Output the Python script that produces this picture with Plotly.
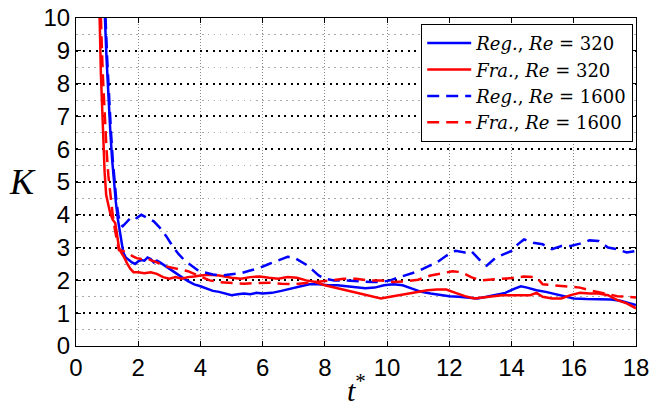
import plotly.graph_objects as go

# Time axis values t* and K for each run
t_reg320 = [0.88, 0.93, 0.98, 1.04, 1.10, 1.16, 1.22, 1.28, 1.34, 1.40, 1.46, 1.52, 1.6, 1.7, 1.8, 1.9,
            2.0, 2.1, 2.2, 2.3, 2.4, 2.5, 2.6, 2.7, 2.85, 3.0, 3.2, 3.4, 3.6, 3.8, 4.0, 4.2, 4.4, 4.6,
            4.8, 5.0, 5.2, 5.4, 5.6, 5.8, 6.0, 6.3, 6.6, 6.9, 7.2, 7.5, 7.8, 8.1, 8.4, 8.7, 9.0, 9.3,
            9.6, 9.9, 10.2, 10.5, 10.8, 11.1, 11.4, 11.7, 12.0, 12.3, 12.6, 12.9, 13.2, 13.5, 13.8,
            14.1, 14.3, 14.5, 14.8, 15.1, 15.4, 15.7, 16.0, 16.4, 16.8, 17.2, 17.5, 17.8, 18.0]
k_reg320 = [10.6, 10.0, 8.8, 7.6, 6.6, 5.7, 5.0, 4.4, 3.9, 3.5, 3.1, 2.85, 2.7, 2.62, 2.55, 2.5,
            2.58, 2.62, 2.6, 2.7, 2.65, 2.55, 2.6, 2.55, 2.45, 2.35, 2.22, 2.1, 1.98, 1.88, 1.82, 1.75,
            1.68, 1.65, 1.6, 1.55, 1.58, 1.6, 1.58, 1.62, 1.6, 1.62, 1.68, 1.75, 1.82, 1.88, 1.88,
            1.85, 1.85, 1.82, 1.78, 1.76, 1.78, 1.85, 1.88, 1.85, 1.75, 1.65, 1.6, 1.55, 1.52, 1.5,
            1.47, 1.45, 1.5, 1.55, 1.62, 1.75, 1.82, 1.78, 1.7, 1.65, 1.58, 1.5, 1.45, 1.43, 1.42,
            1.42, 1.38, 1.3, 1.25]

t_fra320 = [0.72, 0.76, 0.80, 0.84, 0.88, 0.92, 0.97, 1.02, 1.10, 1.18, 1.26, 1.32, 1.38, 1.45, 1.55,
            1.65, 1.75, 1.85, 2.0, 2.2, 2.4, 2.6, 2.8, 3.0, 3.2, 3.4, 3.6, 3.8, 4.0, 4.3, 4.6, 5.0,
            5.3, 5.6, 5.9, 6.2, 6.5, 6.8, 7.1, 7.4, 7.7, 8.0, 8.3, 8.6, 8.9, 9.2, 9.5, 9.8, 10.1,
            10.4, 10.7, 11.0, 11.3, 11.6, 11.9, 12.2, 12.5, 12.8, 13.1, 13.4, 13.7, 14.0, 14.3,
            14.6, 14.8, 15.0, 15.3, 15.6, 15.9, 16.2, 16.5, 16.8, 17.1, 17.4, 17.7, 18.0]
k_fra320 = [10.6, 10.0, 8.3, 7.2, 6.2, 5.3, 4.6, 4.35, 4.05, 3.85, 3.75, 3.4, 3.0, 2.85, 2.7,
            2.5, 2.35, 2.25, 2.25, 2.22, 2.25, 2.2, 2.1, 2.05, 2.1, 2.05, 2.1, 2.12, 2.15, 2.17,
            2.15, 2.08, 2.05, 2.1, 2.12, 2.08, 2.05, 2.1, 2.08, 2.0, 1.95, 1.85, 1.78, 1.72, 1.65,
            1.58, 1.5, 1.45, 1.5, 1.55, 1.6, 1.65, 1.7, 1.72, 1.72, 1.62, 1.52, 1.45, 1.48, 1.52,
            1.55, 1.55, 1.55, 1.55, 1.62, 1.5, 1.45, 1.45, 1.55, 1.62, 1.6, 1.6, 1.55, 1.4, 1.3,
            1.15]

t_reg1600 = [0.9, 0.95, 1.0, 1.06, 1.12, 1.18, 1.24, 1.30, 1.36, 1.42, 1.5, 1.6, 1.7, 1.8, 1.95,
             2.1, 2.3, 2.5, 2.7, 2.9, 3.1, 3.3, 3.5, 3.7, 3.9, 4.1, 4.4, 4.7, 5.0, 5.3, 5.6, 5.9,
             6.2, 6.5, 6.8, 7.0, 7.2, 7.4, 7.6, 7.8, 8.0, 8.3, 8.6, 8.9, 9.2, 9.5, 9.8, 10.1, 10.4,
             10.7, 11.0, 11.3, 11.6, 11.9, 12.2, 12.5, 12.7, 13.0, 13.2, 13.5, 13.8, 14.0, 14.2,
             14.4, 14.7, 15.0, 15.3, 15.6, 15.9, 16.2, 16.5, 16.8, 17.1, 17.4, 17.7, 18.0]
k_reg1600 = [10.6, 10.0, 8.8, 7.6, 6.6, 5.7, 5.0, 4.4, 4.0, 3.72, 3.65, 3.75, 3.85, 3.95, 3.9,
             4.0, 3.9, 3.8, 3.6, 3.35, 3.05, 2.8, 2.6, 2.45, 2.32, 2.25, 2.18, 2.15, 2.18, 2.22,
             2.3, 2.38, 2.5, 2.62, 2.72, 2.7, 2.6, 2.48, 2.32, 2.15, 2.05, 2.0, 2.0, 1.98, 1.95,
             1.95, 1.95, 2.0, 2.1, 2.2, 2.28, 2.42, 2.55, 2.75, 2.9, 2.85, 2.9, 2.6, 2.45, 2.7,
             2.82, 2.9, 3.1, 3.25, 3.15, 3.1, 2.95, 3.05, 3.05, 3.12, 3.22, 3.2, 3.0, 2.95, 2.85,
             2.9]

t_fra1600 = [0.76, 0.8, 0.86, 0.92, 0.98, 1.04, 1.1, 1.18, 1.26, 1.32, 1.38, 1.5, 1.65, 1.8, 1.95,
             2.1, 2.25, 2.4, 2.6, 2.8, 3.0, 3.2, 3.4, 3.6, 3.8, 4.0, 4.3, 4.6, 5.0, 5.4, 5.8, 6.2,
             6.6, 7.0, 7.4, 7.8, 8.2, 8.6, 9.0, 9.4, 9.8, 10.2, 10.6, 11.0, 11.4, 11.8, 12.1, 12.4,
             12.7, 13.0, 13.3, 13.7, 14.0, 14.4, 14.8, 15.0, 15.4, 15.8, 16.2, 16.5, 16.8, 17.1,
             17.4, 17.7, 18.0]
k_fra1600 = [10.6, 10.0, 8.3, 7.0, 6.0, 5.2, 4.6, 4.0, 3.5, 3.15, 2.92, 2.9, 2.85, 2.75, 2.68,
             2.65, 2.68, 2.62, 2.55, 2.45, 2.4, 2.35, 2.32, 2.28, 2.2, 2.1, 2.0, 1.95, 1.92, 1.9,
             1.92, 1.93, 1.9, 1.88, 1.92, 1.95, 2.0, 2.05, 2.05, 2.0, 2.0, 1.95, 1.97, 2.02, 2.15,
             2.22, 2.28, 2.25, 2.1, 2.0, 2.02, 2.05, 2.07, 2.12, 2.1, 1.88, 1.85, 1.82, 1.78, 1.7,
             1.65, 1.58, 1.52, 1.5, 1.48]

series = [
    ("<i>Reg.</i>, <i>Re</i> = 320", t_reg320, k_reg320, "#0000ff", "solid"),
    ("<i>Fra.</i>, <i>Re</i> = 320", t_fra320, k_fra320, "#ff0000", "solid"),
    ("<i>Reg.</i>, <i>Re</i> = 1600", t_reg1600, k_reg1600, "#0000ff", "12px,7px"),
    ("<i>Fra.</i>, <i>Re</i> = 1600", t_fra1600, k_fra1600, "#ff0000", "12px,7px"),
]

fig = go.Figure()
for name, t, k, color, dash in series:
    fig.add_trace(go.Scatter(x=t, y=k, mode="lines", name=name,
                             line=dict(color=color, width=2.5, dash=dash)))

tick_font = dict(family="Liberation Sans, Arial, sans-serif", size=24, color="black")
serif = "DejaVu Serif, serif"

fig.update_layout(
    width=651, height=406,
    margin=dict(l=76, r=15, t=18, b=60),
    paper_bgcolor="white", plot_bgcolor="white",
    showlegend=True,
    legend=dict(x=0.995, y=0.982, xanchor="right", yanchor="top",
                bgcolor="white", bordercolor="black", borderwidth=1,
                font=dict(family=serif, size=18, color="black"),
                itemwidth=44, tracegroupgap=0),
    xaxis=dict(range=[0, 18], dtick=2, tick0=0, showline=True, linecolor="black", linewidth=1,
               mirror="ticks", ticks="inside", ticklen=5, tickcolor="black",
               showgrid=True, gridcolor="#888888", gridwidth=1, griddash="1px,2px",
               zeroline=False, tickfont=tick_font, automargin=False),
    yaxis=dict(range=[0, 10], dtick=1, tick0=0, showline=True, linecolor="black", linewidth=1,
               mirror="ticks", ticks="inside", ticklen=5, tickcolor="black",
               showgrid=True, gridcolor="black", gridwidth=1.5, griddash="2px,4.5px",
               zeroline=False, tickfont=tick_font, automargin=False,
               minor=dict(dtick=0.5, showgrid=True, gridcolor="#aaaaaa", gridwidth=1,
                          griddash="1.5px,4.5px", ticks="")),
    annotations=[
        dict(text="<i>K</i>", xref="paper", yref="paper", x=-0.096, y=0.5,
             xanchor="center", yanchor="middle", showarrow=False,
             font=dict(family="Liberation Serif, serif", size=36, color="black")),
        dict(text="<i>t</i><sup>*</sup>", xref="paper", yref="paper", x=0.5, y=-0.128,
             xanchor="center", yanchor="middle", showarrow=False,
             font=dict(family="Liberation Serif, serif", size=30, color="black")),
    ],
)

fig.write_html("out.html")
